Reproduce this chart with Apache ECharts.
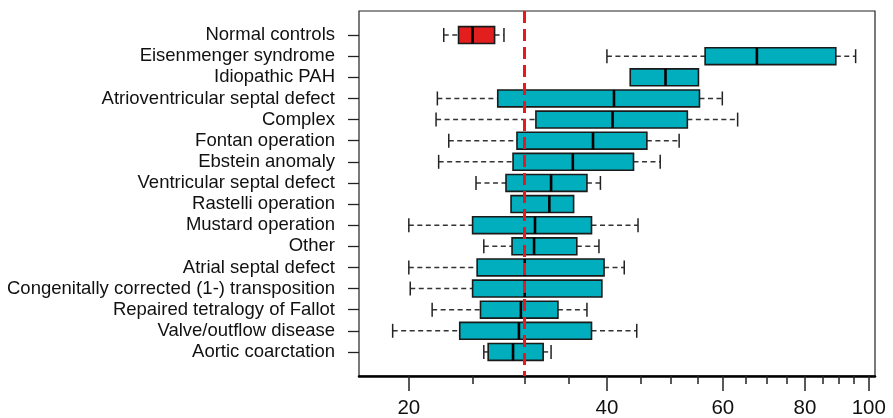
<!DOCTYPE html>
<html>
<head>
<meta charset="utf-8">
<script src="https://cdn.jsdelivr.net/npm/echarts@6/dist/echarts.min.js"></script>
<style>
  html, body { margin: 0; padding: 0; background: #fff; }
  #chart { width: 893px; height: 418px; }
</style>
</head>
<body>
<div id="chart"></div>
<script>
    // groups from top to bottom
    var categories = [
        'Normal controls',
        'Eisenmenger syndrome',
        'Idiopathic PAH',
        'Atrioventricular septal defect',
        'Complex',
        'Fontan operation',
        'Ebstein anomaly',
        'Ventricular septal defect',
        'Rastelli operation',
        'Mustard operation',
        'Other',
        'Atrial septal defect',
        'Congenitally corrected (1-) transposition',
        'Repaired tetralogy of Fallot',
        'Valve/outflow disease',
        'Aortic coarctation'
    ]
    var whiskerLow  = [22.6, 40.0, 43.4, 22.1, 22.0, 23.0, 22.2, 25.3, 28.6, 20.0, 26.0, 20.0, 20.1, 21.7, 18.9, 26.0]
    var q1          = [23.8, 56.4, 43.4, 27.3, 31.2, 29.2, 28.8, 28.1, 28.6, 25.0, 28.7, 25.4, 25.0, 25.7, 23.9, 26.4]
    var median      = [25.0, 67.6, 49.1, 41.0, 40.8, 38.1, 35.5, 32.9, 32.7, 31.1, 31.0, 30.0, 30.0, 29.6, 29.4, 28.8]
    var q3          = [27.0, 89.1, 55.1, 55.3, 53.0, 46.0, 43.9, 37.3, 35.6, 37.9, 36.0, 39.6, 39.3, 33.7, 37.9, 32.0]
    var whiskerHigh = [27.9, 95.5, 55.1, 59.9, 63.2, 51.5, 48.2, 39.1, 35.6, 44.6, 38.9, 42.5, 39.3, 37.3, 44.4, 32.9]

    var majorTicks = [20, 40, 60, 80, 100]
    var minorTicks = [25, 30, 35, 45, 50, 55, 65, 70, 75, 85, 90, 95]
    var refLine = 30

    var rows = categories.map(function (name, i) {
        return [i, whiskerLow[i], q1[i], median[i], q3[i], whiskerHigh[i]]
    })
    var groupIdx = categories.map(function (c, i) { return i })

    var BOX_HALF = 0.4
    var CAP_HALF = 0.33

    function renderBox (params, api) {
        var i = api.value(0)
        var lo = api.value(1), a = api.value(2), m = api.value(3), b = api.value(4), hi = api.value(5)
        var pLo = api.coord([lo, i]), pA = api.coord([a, i]), pM = api.coord([m, i])
        var pB = api.coord([b, i]), pHi = api.coord([hi, i])
        var top = api.coord([a, i - BOX_HALF])[1]
        var bot = api.coord([a, i + BOX_HALF])[1]
        var capTop = api.coord([a, i - CAP_HALF])[1]
        var capBot = api.coord([a, i + CAP_HALF])[1]
        var y = pM[1]
        var dash = { stroke: '#333', lineWidth: 1.5, lineDash: [5, 3.5] }
        var solid = { stroke: '#222', lineWidth: 1.5 }
        var children = []
        if (pLo[0] < pA[0] - 0.5) {
            children.push({ type: 'line', shape: { x1: pLo[0], y1: y, x2: pA[0], y2: y }, style: dash })
            children.push({ type: 'line', shape: { x1: pLo[0], y1: capTop, x2: pLo[0], y2: capBot }, style: solid })
        }
        if (pHi[0] > pB[0] + 0.5) {
            children.push({ type: 'line', shape: { x1: pB[0], y1: y, x2: pHi[0], y2: y }, style: dash })
            children.push({ type: 'line', shape: { x1: pHi[0], y1: capTop, x2: pHi[0], y2: capBot }, style: solid })
        }
        children.push({
            type: 'rect',
            shape: { x: pA[0], y: top, width: pB[0] - pA[0], height: bot - top },
            style: { fill: i === 0 ? '#e31e1e' : '#00aebd', stroke: '#1a1a1a', lineWidth: 1.6 }
        })
        children.push({
            type: 'line',
            shape: { x1: pM[0], y1: top, x2: pM[0], y2: bot },
            style: { stroke: '#000', lineWidth: 2.6 }
        })
        return { type: 'group', children: children }
    }

    var dom = echarts.init(document.getElementById('chart'))
    var option = {
        animation: false,
        grid: {
            left: 359,
            right: 18,
            top: 11,
            bottom: 42,
            outerBoundsMode: 'none',
            containLabel: false,
            show: true,
            borderColor: '#222',
            borderWidth: 1.2,
            backgroundColor: 'transparent'
        },
        xAxis: [
            {
                type: 'log',
                logBase: 10,
                min: 16.8,
                max: 102.2,
                position: 'bottom',
                axisLine: { show: true, onZero: false, lineStyle: { color: '#000', width: 2.5 } },
                axisTick: { show: true, customValues: majorTicks, length: 15, lineStyle: { color: '#222', width: 1.5 } },
                axisLabel: {
                    customValues: majorTicks,
                    fontSize: 20.5,
                    fontFamily: 'Liberation Sans, Arial, sans-serif',
                    color: '#111',
                    margin: 22
                },
                splitLine: { show: false },
                minorTick: { show: false }
            },
            {
                type: 'log',
                logBase: 10,
                min: 16.8,
                max: 102.2,
                position: 'bottom',
                axisLine: { show: false, onZero: false },
                axisTick: { show: true, customValues: minorTicks, length: 8, lineStyle: { color: '#222', width: 1.5 } },
                axisLabel: { show: false },
                splitLine: { show: false }
            }
        ],
        yAxis: {
            type: 'value',
            min: -1.14,
            max: 16.14,
            inverse: true,
            axisLine: { show: false },
            axisTick: { show: true, customValues: groupIdx, length: 11, lineStyle: { color: '#222', width: 1.3 } },
            axisLabel: {
                customValues: groupIdx,
                formatter: function (v) { return categories[Math.round(v)] },
                fontSize: 18.5,
                fontFamily: 'Liberation Sans, Arial, sans-serif',
                color: '#111',
                margin: 24
            },
            splitLine: { show: false }
        },
        series: [
            {
                type: 'custom',
                xAxisIndex: 0,
                renderItem: renderBox,
                encode: { x: [1, 2, 3, 4, 5], y: 0 },
                data: rows,
                z: 2,
                markLine: {
                    silent: true,
                    symbol: 'none',
                    z: 10,
                    label: { show: false },
                    lineStyle: { color: '#e5191e', width: 3, type: [12, 6] },
                    data: [{ xAxis: refLine }]
                }
            }
        ]
    }
    dom.setOption(option)
    window.addEventListener('resize', function () { dom.resize() })
</script>
</body>
</html>
